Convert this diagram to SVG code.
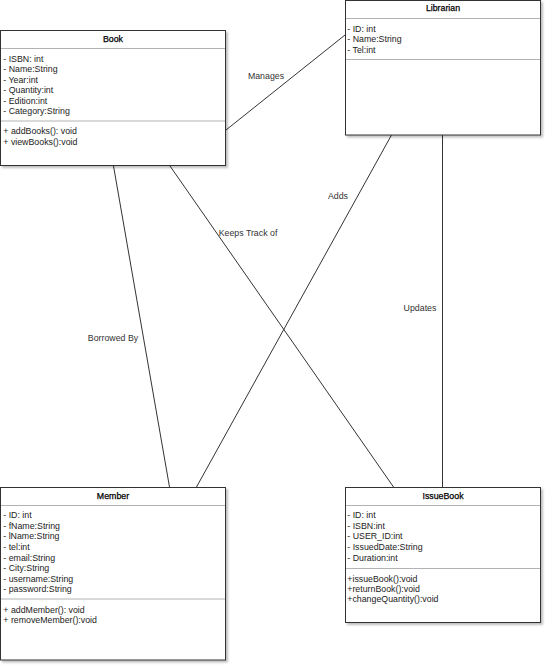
<svg xmlns="http://www.w3.org/2000/svg" width="550" height="670" viewBox="0 0 550 670">
<defs>
<filter id="sh" x="-5%" y="-5%" width="115%" height="115%">
<feDropShadow dx="2" dy="2" stdDeviation="1" flood-color="#000" flood-opacity="0.25"/>
</filter>
<style>
.box{fill:#fff;stroke:#333;stroke-width:1}
.sep{stroke:#b3b3b3;stroke-width:1}
text{font-family:"Liberation Sans",Arial,sans-serif;font-size:8.8px;fill:#222}
.t{text-anchor:middle;fill:#000;stroke:#000;stroke-width:0.25}
.lbl{fill:#333}
.c{stroke:#333;stroke-width:1;fill:none}
</style>
</defs>
<rect width="550" height="670" fill="#fff"/>
<g id="connectors">
<line class="c" x1="226" y1="130" x2="345" y2="35"/>
<line class="c" x1="391.5" y1="135" x2="196.5" y2="487"/>
<line class="c" x1="442.5" y1="135" x2="442.5" y2="487"/>
<line class="c" x1="170" y1="166" x2="393.5" y2="487"/>
<line class="c" x1="113.5" y1="166" x2="169.5" y2="487"/>
<text class="lbl" x="266" y="78.9" text-anchor="middle">Manages</text>
<text class="lbl" x="338" y="198.9" text-anchor="middle">Adds</text>
<text class="lbl" x="420" y="310.5" text-anchor="middle">Updates</text>
<text class="lbl" x="248" y="235.9" text-anchor="middle">Keeps Track of</text>
<text class="lbl" x="113" y="340.9" text-anchor="middle">Borrowed By</text>
</g>
<g id="book">
<rect class="box" x="0.5" y="30.5" width="225" height="135" filter="url(#sh)"/>
<text class="t" x="113" y="42.2">Book</text>
<line class="sep" x1="1" y1="48.5" x2="225" y2="48.5"/>
<text x="3.3" y="61.5">- ISBN: int</text>
<text x="3.3" y="72">- Name:String</text>
<text x="3.3" y="82.5">- Year:int</text>
<text x="3.3" y="93">- Quantity:int</text>
<text x="3.3" y="103.5">- Edition:int</text>
<text x="3.3" y="114">- Category:String</text>
<line class="sep" x1="1" y1="121" x2="225" y2="121"/>
<text x="3.3" y="134.2">+ addBooks(): void</text>
<text x="3.3" y="144.7">+ viewBooks():void</text>
</g>
<g id="librarian">
<rect class="box" x="345.5" y="0.5" width="195" height="134.5" filter="url(#sh)"/>
<text class="t" x="443" y="10.7">Librarian</text>
<line class="sep" x1="346" y1="18.5" x2="540" y2="18.5"/>
<text x="347.3" y="31.5">- ID: int</text>
<text x="347.3" y="42">- Name:String</text>
<text x="347.3" y="52.5">- Tel:int</text>
<line class="sep" x1="346" y1="59.5" x2="540" y2="59.5"/>
</g>
<g id="member">
<rect class="box" x="0.5" y="487.5" width="225" height="172.5" filter="url(#sh)"/>
<text class="t" x="113" y="499">Member</text>
<line class="sep" x1="1" y1="505.5" x2="225" y2="505.5"/>
<text x="3.3" y="518.2">- ID: int</text>
<text x="3.3" y="528.8">- fName:String</text>
<text x="3.3" y="539.4">- lName:String</text>
<text x="3.3" y="550">- tel:int</text>
<text x="3.3" y="560.6">- email:String</text>
<text x="3.3" y="571.2">- City:String</text>
<text x="3.3" y="581.8">- username:String</text>
<text x="3.3" y="592.4">- password:String</text>
<line class="sep" x1="1" y1="599" x2="225" y2="599"/>
<text x="3.3" y="612.5">+ addMember(): void</text>
<text x="3.3" y="622.8">+ removeMember():void</text>
</g>
<g id="issuebook">
<rect class="box" x="345.5" y="487.5" width="195" height="135" filter="url(#sh)"/>
<text class="t" x="443" y="499">IssueBook</text>
<line class="sep" x1="346" y1="505.5" x2="540" y2="505.5"/>
<text x="347.3" y="518.2">- ID: int</text>
<text x="347.3" y="528.8">- ISBN:int</text>
<text x="347.3" y="539.4">- USER_ID:int</text>
<text x="347.3" y="550">- IssuedDate:String</text>
<text x="347.3" y="560.6">- Duration:int</text>
<line class="sep" x1="346" y1="568.5" x2="540" y2="568.5"/>
<text x="347.3" y="582">+issueBook():void</text>
<text x="347.3" y="592.2">+returnBook():void</text>
<text x="347.3" y="602.4">+changeQuantity():void</text>
</g>
</svg>
